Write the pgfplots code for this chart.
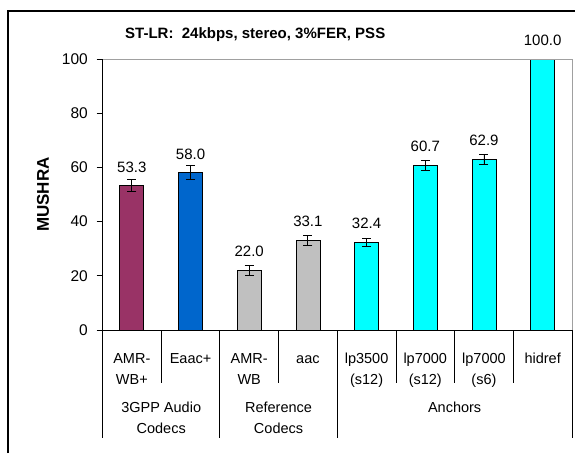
\documentclass[border=0pt]{standalone}
\usepackage{pgfplots}
\pgfplotsset{compat=1.18}
\usepackage{fontspec}
\setmainfont{Liberation Sans}
\definecolor{cMaroon}{HTML}{993366}
\definecolor{cBlue}{HTML}{0066CC}
\definecolor{cGray}{HTML}{C0C0C0}
\definecolor{cCyan}{HTML}{00FFFF}
\definecolor{borderGray}{HTML}{A0A0A0}
\newcommand{\cat}[1]{\begin{tabular}[t]{@{}c@{}}#1\end{tabular}}
\begin{document}
\begin{tikzpicture}
\useasboundingbox (0pt,0pt) rectangle (575pt,-453pt);
\draw[line width=1.3pt] (8pt,-453pt) -- (8pt,-11pt) -- (575pt,-11pt);
\node[font=\fontsize{15}{18}\selectfont\bfseries, anchor=base west, inner sep=0pt] at (125pt,-38pt) {ST-LR:\ \ 24kbps, stereo, 3\%FER, PSS};
\begin{axis}[
  at={(102.5pt,-330pt)}, anchor=south west,
  scale only axis, width=469.5pt, height=271pt,
  xmin=-0.5, xmax=7.5, ymin=0, ymax=100,
  ybar, bar width=24pt, bar shift=0pt,
  clip=false,
  axis line style={draw=none},
  xtick={0,...,7},
  xticklabels={{\cat{AMR-\\WB+}},{\cat{Eaac+}},{\cat{AMR-\\WB}},{\cat{aac}},{\cat{lp3500\\(s12)}},{\cat{lp7000\\(s12)}},{\cat{lp7000\\(s6)}},{\cat{hidref}}},
  xticklabel style={font=\fontsize{14.5}{21}\selectfont, anchor=base, inner sep=0pt, yshift=-27pt},
  major x tick style={draw=none},
  ytick={0,20,...,100},
  ytick pos=left, tick align=outside, major tick length=6pt,
  major y tick style={black, line width=0.8pt},
  yticklabel style={font=\fontsize{15.5}{18}\selectfont, inner sep=0pt, xshift=-8.5pt},
  /pgf/number format/assume math mode=true,
  ylabel={MUSHRA},
  ylabel style={font=\fontsize{17}{20}\selectfont\bfseries, at={(axis description cs:-0.1267,0.5)}, anchor=center},
  nodes near coords={\pgfmathprintnumber[fixed,zerofill,precision=1]{\pgfplotspointmeta}},
  every node near coord/.append style={font=\fontsize{15}{18}\selectfont, anchor=south, inner sep=0pt, yshift=13pt, black},
  error bars/error bar style={black, line width=0.9pt},
  error bars/error mark options={rotate=90, mark size=4.5pt, black, line width=0.9pt},
]
\addplot[fill=cMaroon, draw=black, line width=0.8pt, error bars/.cd, y dir=both, y explicit] coordinates {(0,53.3) +- (0,2.1)};
\addplot[fill=cBlue, draw=black, line width=0.8pt, error bars/.cd, y dir=both, y explicit] coordinates {(1,58.0) +- (0,2.6)};
\addplot[fill=cGray, draw=black, line width=0.8pt, error bars/.cd, y dir=both, y explicit] coordinates {(2,22.0) +- (0,1.7)};
\addplot[fill=cGray, draw=black, line width=0.8pt, error bars/.cd, y dir=both, y explicit] coordinates {(3,33.1) +- (0,1.8)};
\addplot[fill=cCyan, draw=black, line width=0.8pt, error bars/.cd, y dir=both, y explicit] coordinates {(4,32.4) +- (0,1.5)};
\addplot[fill=cCyan, draw=black, line width=0.8pt, error bars/.cd, y dir=both, y explicit] coordinates {(5,60.7) +- (0,1.9)};
\addplot[fill=cCyan, draw=black, line width=0.8pt, error bars/.cd, y dir=both, y explicit] coordinates {(6,62.9) +- (0,1.9)};
\addplot[fill=cCyan, draw=black, line width=0.8pt] coordinates {(7,100.0)};
% plot area frame
\draw[borderGray, line width=0.9pt] (rel axis cs:0,1) -- (rel axis cs:1,1) -- (rel axis cs:1,0);
\draw[black, line width=0.9pt] (rel axis cs:0,1) -- (rel axis cs:0,0) -- (rel axis cs:1,0);
% category separators
\draw[black, line width=0.8pt] (axis cs:-0.5,0) -- ++(0pt,-53pt);
\draw[black, line width=0.8pt] (axis cs:0.5,0) -- ++(0pt,-53pt);
\draw[black, line width=0.8pt] (axis cs:1.5,0) -- ++(0pt,-53pt);
\draw[black, line width=0.8pt] (axis cs:2.5,0) -- ++(0pt,-53pt);
\draw[black, line width=0.8pt] (axis cs:3.5,0) -- ++(0pt,-53pt);
\draw[black, line width=0.8pt] (axis cs:4.5,0) -- ++(0pt,-53pt);
\draw[black, line width=0.8pt] (axis cs:5.5,0) -- ++(0pt,-53pt);
\draw[black, line width=0.8pt] (axis cs:6.5,0) -- ++(0pt,-53pt);
\draw[black, line width=0.8pt] (axis cs:7.5,0) -- ++(0pt,-53pt);
% group separators
\draw[black, line width=0.8pt] (axis cs:-0.5,0) ++(0pt,-53pt) -- ++(0pt,-55pt);
\draw[black, line width=0.8pt] (axis cs:1.5,0) ++(0pt,-53pt) -- ++(0pt,-55pt);
\draw[black, line width=0.8pt] (axis cs:3.5,0) ++(0pt,-53pt) -- ++(0pt,-55pt);
\draw[black, line width=0.8pt] (axis cs:7.5,0) ++(0pt,-53pt) -- ++(0pt,-55pt);
% group labels
\node[font=\fontsize{14.5}{21}\selectfont, anchor=base, inner sep=0pt] at (axis cs:0.5,0) [yshift=-82pt] {\cat{3GPP Audio\\Codecs}};
\node[font=\fontsize{14.5}{21}\selectfont, anchor=base, inner sep=0pt] at (axis cs:2.5,0) [yshift=-82pt] {\cat{Reference\\Codecs}};
\node[font=\fontsize{14.5}{21}\selectfont, anchor=base, inner sep=0pt] at (axis cs:5.5,0) [yshift=-82pt] {\cat{Anchors}};
\end{axis}
\end{tikzpicture}
\end{document}
